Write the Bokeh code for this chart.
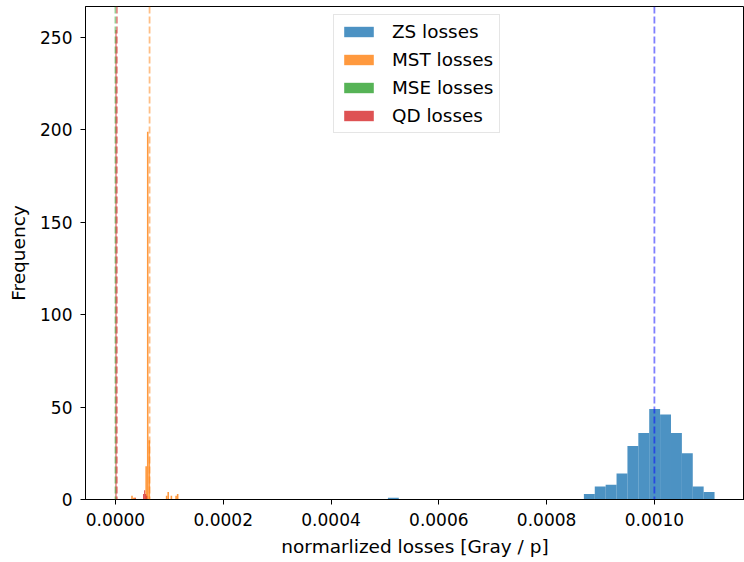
import numpy as np
from bokeh.plotting import figure
from bokeh.models import Range1d, Span, FixedTicker, PrintfTickFormatter, Legend, LegendItem
from bokeh.embed import file_html
from bokeh.resources import INLINE

# ---- data ----
series_names = ["ZS losses", "MST losses", "MSE losses", "QD losses"]
series_colors = ["#1f77b4", "#ff7f0e", "#2ca02c", "#d62728"]

# ZS: 30 bins between min and max
zs_range = [0.0005055, 0.0011116]
zs_counts = [1, 0, 0, 0, 0, 0, 0, 0, 0, 0, 0, 0, 0, 0, 0, 0, 0, 0,
             3, 7, 8, 14, 29, 36, 49, 46, 36, 25, 7, 4]

# MST: 30 bins
mst_range = [0.0000292, 0.0001169]
mst_counts = [2, 1, 1, 0, 0, 0, 0, 0, 0, 18, 199, 32, 0, 0, 0, 0, 0, 0, 0, 0,
              0, 0, 2, 4, 0, 2, 0, 0, 2, 3]

# MSE: 30 bins, all packed next to zero
mse_range = [0.0, 0.0000010]
mse_counts = [140, 60, 30, 15, 8, 5, 3, 2, 1, 1, 0, 0, 0, 0, 0, 0, 0, 0, 0, 0,
              0, 0, 0, 0, 0, 0, 0, 0, 0, 0]

# QD: 30 bins
qd_range = [0.0, 0.0000590]
qd_counts = [254, 0, 0, 0, 0, 0, 0, 0, 0, 0, 0, 0, 0, 0, 0, 0, 0, 0, 1, 0,
             0, 0, 0, 0, 0, 0, 3, 5, 3, 2]

# mean lines
mean_values = [0.0010, 0.0000633, 0.0, 0.0000028]
mean_colors = ["blue", "#ff7f0e", "#2ca02c", "#d62728"]

x_ticks = [0.0, 0.0002, 0.0004, 0.0006, 0.0008, 0.0010]
y_ticks = [0, 50, 100, 150, 200, 250]

x_label = "normarlized losses [Gray / p]"
y_label = "Frequency"

FONT = "DejaVu Sans"

# ---- ranges like matplotlib autoscale ----
all_ranges = [zs_range, mst_range, mse_range, qd_range]
all_counts = [zs_counts, mst_counts, mse_counts, qd_counts]
xmin = min(r[0] for r in all_ranges)
xmax = max(r[1] for r in all_ranges)
span = xmax - xmin
ymax = max(max(c) for c in all_counts)

p = figure(width=744, height=562, output_backend="svg", toolbar_location=None,
           x_range=Range1d(xmin - 0.05 * span, xmax + 0.05 * span),
           y_range=Range1d(0, ymax * 1.05),
           min_border_left=85, min_border_right=0, min_border_top=6,
           min_border_bottom=63)

p.background_fill_color = "white"
p.border_fill_color = "white"
p.outline_line_color = "black"
p.outline_line_width = 1
p.xgrid.visible = False
p.ygrid.visible = False

items = []
for name, col, rng, cnt in zip(series_names, series_colors, all_ranges, all_counts):
    edges = np.linspace(rng[0], rng[1], len(cnt) + 1)
    r = p.quad(left=edges[:-1], right=edges[1:], bottom=0, top=cnt,
               fill_color=col, fill_alpha=0.8, line_color=None)
    items.append(LegendItem(label=name, renderers=[r]))

for m, c in zip(mean_values, mean_colors):
    p.add_layout(Span(location=m, dimension="height", line_color=c, line_alpha=0.5,
                      line_width=1.8, line_dash="7 3"))

legend = Legend(items=items, location=(248, 366))
legend.glyph_width = 37
legend.glyph_height = 13
legend.label_text_font = FONT
legend.label_text_font_size = "18.4px"
legend.label_text_color = "black"
legend.label_standoff = 15
legend.spacing = 7
legend.padding = 6
legend.margin = 0
legend.border_line_color = "#cccccc"
legend.border_line_width = 1
legend.background_fill_alpha = 0.8
p.add_layout(legend, "center")

for ax in (p.xaxis[0], p.yaxis[0]):
    ax.axis_line_color = "black"
    ax.major_tick_line_color = "black"
    ax.major_tick_out = 5
    ax.major_tick_in = 0
    ax.minor_tick_line_color = None
    ax.major_label_text_font = FONT
    ax.major_label_text_font_size = "17px"
    ax.major_label_text_color = "black"
    ax.axis_label_text_font = FONT
    ax.axis_label_text_font_size = "18.5px"
    ax.axis_label_text_font_style = "normal"
    ax.axis_label_text_color = "black"

p.xaxis[0].ticker = FixedTicker(ticks=x_ticks)
p.xaxis[0].formatter = PrintfTickFormatter(format="%.4f")
p.yaxis[0].ticker = FixedTicker(ticks=y_ticks)
p.xaxis[0].axis_label = x_label
p.yaxis[0].axis_label = y_label
p.xaxis[0].major_label_standoff = 8
p.yaxis[0].major_label_standoff = 8
p.xaxis[0].axis_label_standoff = 7
p.yaxis[0].axis_label_standoff = 8

open("out.html", "w").write(file_html(p, INLINE))
